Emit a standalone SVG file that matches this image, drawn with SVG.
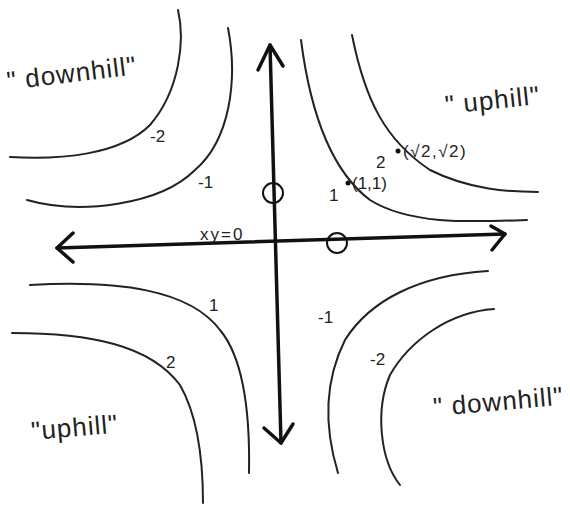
<svg xmlns="http://www.w3.org/2000/svg" width="570" height="505" viewBox="0 0 570 505">
<style>
.ax{fill:none;stroke:#111;stroke-width:3.5;stroke-linecap:round;stroke-linejoin:round}
.ct{fill:none;stroke:#222;stroke-width:2;stroke-linecap:round}
.t{font-family:"Liberation Sans","DejaVu Sans",sans-serif;fill:#222}
.lbl{font-size:17px}
.big{font-size:26px;letter-spacing:1px}
.circ{fill:none;stroke:#111;stroke-width:2}
</style>
<rect width="570" height="505" fill="#fff"/>
<g id="connectors">
<path class="ax" d="M57,248 L505,234"/>
<path class="ax" d="M73,233 L57,248 L73,262"/>
<path class="ax" d="M491,226 L505,234 L492,250"/>
<path class="ax" d="M270,45 L281,443"/>
<path class="ax" d="M258,70 L270,45 L283,66"/>
<path class="ax" d="M264,428 L281,443 L293,424"/>
</g>
<g id="contour-ul-m2"><path class="ct" d="M178,10 C185,40 180,90 150,125 C120,155 60,160 10,157"/><text class="t lbl" x="150" y="142">-2</text></g>
<g id="contour-ul-m1"><path class="ct" d="M228,28 C238,80 230,140 195,170 C160,205 80,215 27,200"/><text class="t lbl" x="198" y="188">-1</text></g>
<g id="contour-ur-1"><path class="ct" d="M301,40 C310,110 330,170 370,200 C410,225 470,222 527,220"/><text class="t lbl" x="329" y="201">1</text></g>
<g id="contour-ur-2"><path class="ct" d="M352,35 C365,100 385,140 430,170 C470,190 510,192 538,192"/><text class="t lbl" x="376" y="168">2</text></g>
<g id="contour-ll-1"><path class="ct" d="M30,285 C120,280 190,290 220,330 C245,360 250,420 249,473"/><text class="t lbl" x="209" y="311">1</text></g>
<g id="contour-ll-2"><path class="ct" d="M12,333 C90,333 150,345 180,385 C200,420 203,470 203,503"/><text class="t lbl" x="166" y="368">2</text></g>
<g id="contour-lr-m1"><path class="ct" d="M488,271 C420,275 370,300 345,340 C320,390 328,440 338,473"/><text class="t lbl" x="318" y="323">-1</text></g>
<g id="contour-lr-m2"><path class="ct" d="M494,309 C450,312 410,340 390,375 C375,410 380,460 400,485"/><text class="t lbl" x="370" y="365">-2</text></g>
<g id="point-11"><circle cx="348" cy="183" r="2.5" fill="#111"/><text class="t lbl" x="352" y="189">(1,1)</text></g>
<g id="point-r2"><circle cx="398" cy="151" r="2.5" fill="#111"/><text class="t lbl" x="403" y="157" letter-spacing="1.5">(√2,√2)</text></g>
<g id="zero-y"><circle class="circ" cx="273" cy="193" r="10"/></g>
<g id="zero-x"><circle class="circ" cx="337" cy="243" r="10"/></g>
<g id="label-xy0"><text class="t lbl" x="200" y="240" letter-spacing="2">xy=0</text></g>
<g id="label-downhill-ul"><text class="t big" x="8" y="90" transform="rotate(-7 8 90)">" downhill"</text></g>
<g id="label-uphill-ur"><text class="t big" x="446" y="114" transform="rotate(-6 446 114)">" uphill"</text></g>
<g id="label-uphill-ll"><text class="t big" x="32" y="440" transform="rotate(-5 32 440)">"uphill"</text></g>
<g id="label-downhill-lr"><text class="t big" x="434" y="416" transform="rotate(-5 434 416)">" downhill"</text></g>
</svg>
